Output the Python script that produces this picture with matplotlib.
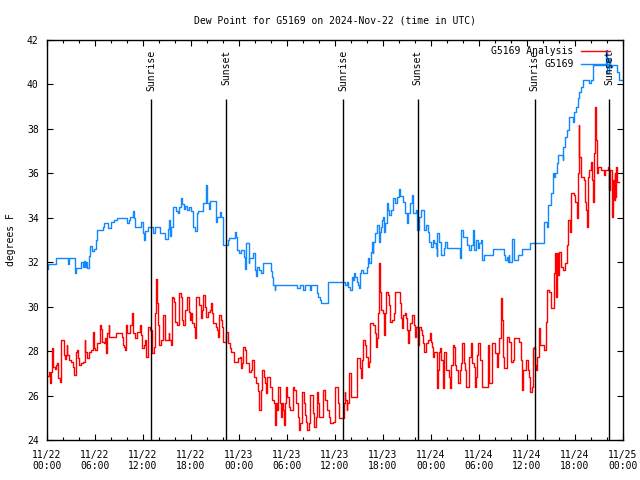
import matplotlib
matplotlib.use('Agg')
import matplotlib.pyplot as plt
from matplotlib.ticker import MultipleLocator

# ── Data (hours since 11/22 00:00 UTC, deg F) ───────────────────────────────
g5169_hours = [
    0.0, 0.12, 1.16, 2.66, 2.8, 3.45, 3.66, 4.3, 4.45, 4.6, 4.75, 4.9, 5.0,
    5.24, 5.37, 5.66, 5.9, 6.07, 6.28, 6.95, 7.11, 7.6, 7.95, 8.36, 8.69,
    9.7, 10.0, 10.2, 10.4, 10.77, 10.9, 11.06, 11.8, 12.0, 12.1, 12.3, 12.6,
    13.2, 13.3, 13.5, 14.1, 14.7, 15.1, 15.25, 15.4, 15.55, 15.8, 16.1, 16.4,
    16.55, 16.7, 16.9, 17.1, 17.3, 17.5, 17.7, 18.05, 18.3, 18.5, 18.7, 18.9,
    19.5, 19.9, 20.0, 20.2, 20.4, 21.1, 21.3, 21.6, 21.8, 22.0, 22.6, 22.7,
    23.5, 23.6, 23.8, 24.0, 24.2, 24.6, 24.7, 24.9, 25.2, 25.3, 25.8, 25.95,
    26.1, 26.3, 26.5, 26.7, 27.0, 28.0, 28.1, 28.3, 28.45, 28.55, 31.3, 31.6,
    32.0, 32.2, 32.9, 33.0, 33.7, 33.9, 34.1, 34.2, 35.1, 37.3, 37.5, 37.6,
    37.9, 38.1, 38.2, 38.4, 38.5, 38.7, 38.9, 39.0, 39.1, 39.3, 39.5, 40.0,
    40.1, 40.3, 40.5, 40.6, 40.7, 40.8, 41.0, 41.2, 41.3, 41.45, 41.6, 41.7,
    41.9, 42.0, 42.1, 42.2, 42.5, 42.6, 42.8, 43.0, 43.3, 43.5, 43.7, 44.0,
    44.1, 44.5, 44.7, 44.8, 45.0, 45.1, 45.4, 45.6, 45.8, 46.1, 46.3, 46.5,
    46.8, 47.1, 47.4, 47.6, 47.8, 48.0, 48.2, 48.4, 48.6, 48.7, 48.8, 49.0,
    49.2, 49.6, 49.8, 50.0, 51.6, 51.8, 52.0, 52.5, 52.8, 53.0, 53.3, 53.4,
    53.6, 53.9, 54.0, 54.2, 54.4, 54.6, 55.7, 57.18, 57.3, 57.47, 57.6, 57.72,
    57.8, 58.1, 58.39, 58.84, 59.4, 60.38, 62.09, 62.5, 62.59, 63.05, 63.21,
    63.42, 63.54, 63.71, 63.84, 64.46, 64.54, 64.79, 64.96, 65.21, 65.29,
    65.71, 65.92, 66.12, 66.33, 66.54, 66.75, 66.96, 67.79, 68.0, 68.2, 69.87,
    69.99, 70.2, 70.41, 70.62, 71.24, 71.45, 72.0,
]
g5169_dewpt = [
    31.7, 31.9, 32.17, 31.9, 32.17, 31.5, 31.75, 32.0, 31.8, 32.05, 31.8, 32.0, 31.75,
    32.3, 32.73, 32.5, 32.6, 33.0, 33.45, 33.6, 33.75, 33.55, 33.8, 33.9, 34.0,
    34.0, 33.75, 33.9, 34.05, 34.3, 34.0, 33.57, 33.8, 33.3, 33.0, 33.4, 33.57,
    33.57, 33.33, 33.57, 33.33, 33.03, 33.5, 33.9, 33.2, 33.6, 34.5, 34.3, 34.2,
    34.5, 34.9, 34.6, 34.4, 34.55, 34.35, 34.5, 34.3, 33.6, 33.4, 34.2, 34.3,
    34.65, 35.47, 34.65, 34.4, 34.77, 33.8, 34.05, 34.27, 34.05, 32.77, 33.0, 33.07,
    33.38, 33.15, 32.55, 32.4, 32.55, 32.25, 31.7, 32.85, 31.95, 32.17, 32.4, 31.65,
    31.4, 31.8, 31.65, 31.5, 31.95, 31.6, 31.35, 30.98, 30.75, 30.98, 30.83, 30.98,
    30.75, 30.98, 30.75, 30.98, 30.6, 30.45, 30.3, 30.15, 31.13, 30.98, 31.13, 30.9,
    30.75, 31.35, 31.2, 31.5, 31.35, 31.13, 30.98, 30.83, 31.5, 31.65, 31.5, 31.8,
    32.17, 31.95, 32.47, 32.9, 32.4, 32.9, 33.3, 33.52, 33.67, 32.9, 33.37, 33.6,
    33.9, 34.05, 33.37, 33.75, 34.65, 34.35, 34.13, 34.35, 34.87, 34.65, 34.95, 35.3,
    35.0, 34.72, 34.5, 34.2, 33.75, 34.2, 34.65, 35.03, 34.2, 34.35, 33.45, 34.05,
    34.35, 33.45, 33.67, 33.37, 32.92, 32.7, 33.0, 32.85, 32.63, 32.3, 33.3, 32.92,
    32.33, 32.63, 32.92, 32.63, 32.17, 33.45, 33.15, 32.78, 32.55, 32.78, 33.45, 32.55,
    33.0, 32.63, 32.85, 33.0, 32.1, 32.33, 32.58, 32.33, 32.1, 32.25, 32.03, 32.33,
    32.03, 33.03, 32.1, 32.33, 32.58, 32.85, 33.83, 33.6, 34.58, 35.1, 36.0,
    35.85, 36.0, 36.45, 36.83, 36.6, 37.2, 37.65, 37.95, 38.25, 38.55,
    38.33, 38.78, 39.0, 39.38, 39.68, 39.9, 40.2, 40.05, 40.2, 40.88, 41.55,
    40.5, 41.18, 40.8, 40.88, 40.58, 40.2, 40.2,
]

analysis_hours = [
    0.0, 0.25, 0.37, 0.54, 0.67, 0.79, 0.96, 1.1, 1.3, 1.4, 1.6, 1.7, 1.8,
    2.1, 2.25, 2.35, 2.45, 2.55, 2.7, 3.0, 3.3, 3.37, 3.6, 3.7, 3.9, 4.0, 4.3,
    4.5, 4.7, 4.8, 4.95, 5.2, 5.5, 5.7, 5.9, 6.0, 6.2, 6.6, 6.75, 6.9, 7.1,
    7.2, 7.4, 7.5, 7.7, 7.8, 8.6, 9.4, 9.5, 9.6, 9.75, 9.9, 10.0, 10.4, 10.6,
    10.7, 10.8, 11.0, 11.3, 11.6, 11.8, 11.9, 12.1, 12.3, 12.4, 12.6, 12.9,
    13.1, 13.15, 13.4, 13.5, 13.65, 13.8, 13.9, 14.0, 14.3, 14.5, 14.7, 14.8,
    15.2, 15.3, 15.5, 15.6, 15.8, 15.9, 16.0, 16.2, 16.5, 16.7, 16.9, 17.0,
    17.3, 17.5, 17.7, 17.9, 18.05, 18.14, 18.34, 18.55, 18.68, 18.97, 19.22,
    19.43, 19.55, 19.76, 19.88, 20.12, 20.42, 20.55, 20.67, 20.76, 21.09,
    21.25, 21.42, 21.55, 21.71, 21.84, 22.0, 22.42, 22.67, 22.84, 23.05, 23.34,
    23.88, 24.08, 24.29, 24.42, 24.54, 24.71, 24.92, 25.21, 25.54, 25.67,
    25.92, 26.08, 26.37, 26.5, 26.71, 26.88, 27.08, 27.2, 27.33, 27.5, 27.83,
    28.08, 28.37, 28.5, 28.66, 28.79, 28.91, 29.08, 29.2, 29.33, 29.5, 29.62,
    29.74, 29.91, 30.03, 30.24, 30.41, 30.74, 30.87, 31.07, 31.37, 31.49,
    31.65, 31.82, 32.11, 32.24, 32.4, 32.53, 32.7, 32.9, 33.24, 33.4, 33.57,
    33.69, 33.86, 33.98, 34.32, 34.48, 34.81, 34.98, 35.23, 35.36, 35.73,
    35.94, 36.36, 36.48, 36.98, 37.1, 37.19, 37.31, 37.44, 37.52, 37.69, 37.81,
    37.94, 38.02, 38.52, 38.69, 39.06, 39.18, 39.27, 39.39, 39.52, 39.81, 39.93,
    40.1, 40.27, 40.39, 40.81, 40.98, 41.1, 41.23, 41.35, 41.47, 41.56, 41.64,
    41.76, 42.05, 42.18, 42.3, 42.43, 42.6, 42.72, 42.89, 43.18, 43.34, 43.47,
    43.93, 44.09, 44.26, 44.43, 44.55, 44.76, 44.93, 45.05, 45.17, 45.3, 45.42,
    45.59, 45.92, 46.05, 46.17, 46.34, 46.46, 46.76, 46.88, 47.0, 47.08, 47.41,
    47.58, 47.83, 47.99, 48.12, 48.24, 48.41, 48.7, 48.83, 48.99, 49.16, 49.29,
    49.46, 49.58, 49.88, 50.17, 50.29, 50.42, 50.54, 50.71, 50.92, 51.04, 51.17,
    51.33, 51.58, 51.75, 51.87, 52.08, 52.25, 52.41, 52.79, 53.0, 53.16, 53.33,
    53.49, 53.62, 53.75, 53.91, 54.08, 54.27, 54.39, 55.18, 55.31, 55.64, 56.02,
    56.22, 56.35, 56.47, 56.76, 56.89, 57.06, 57.18, 57.47, 57.8, 58.01, 58.22,
    58.43, 59.05, 59.22, 59.38, 59.55, 59.88, 60.09, 60.3, 60.42, 60.59, 60.72,
    60.84, 61.01, 61.17, 61.26, 61.46, 61.63, 62.17, 62.38, 62.55, 62.8, 62.96,
    63.42, 63.54, 63.63, 63.71, 63.84, 63.96, 64.25, 64.46, 64.79, 64.96, 65.08,
    65.38, 65.5, 65.92, 66.04, 66.21, 66.33, 66.46, 66.54, 66.75, 67.16, 67.29,
    67.37, 67.46, 67.58, 67.79, 67.95, 68.12, 68.29, 68.41, 68.54, 68.62, 68.7,
    68.87, 69.24, 69.62, 69.78, 70.12, 70.28, 70.41, 70.58, 70.7, 70.82, 70.95,
    71.03, 71.12, 71.24, 71.5,
]
analysis_dewpt = [
    26.9, 27.08, 26.55, 27.08, 28.13, 27.3, 27.2, 27.38, 27.45, 26.8, 26.6, 27.3, 28.5,
    27.83, 27.65, 27.83, 28.28, 27.83, 27.6, 27.5, 27.3, 26.93, 27.98, 28.05, 27.68, 27.38, 27.45,
    27.5, 28.5, 27.98, 27.68, 27.98, 28.05, 28.88, 28.13, 28.05, 28.35, 29.18, 29.0, 28.43, 28.35,
    28.58, 27.9, 28.8, 29.18, 28.65, 28.8, 28.65, 28.28, 28.2, 28.05, 29.18, 28.8, 29.18, 29.7,
    29.1, 28.8, 28.58, 28.88, 29.18, 28.73, 28.13, 28.28, 28.5, 27.75, 29.1, 28.95,
    28.43, 27.9, 28.2, 29.7, 31.23, 30.15, 29.18, 28.28, 28.5, 29.63, 29.03, 28.5,
    28.8, 28.5, 28.28, 30.45, 30.38, 30.23, 29.33, 29.18, 30.63, 30.45, 29.4, 29.18,
    29.85, 30.45, 29.78, 29.4, 29.7, 29.25, 29.1, 28.58, 30.45, 30.08, 29.48,
    29.85, 30.53, 30.0, 29.55, 29.78, 29.85, 30.15, 29.7, 29.25, 29.1,
    28.95, 28.65, 29.63, 29.4, 29.1, 28.43, 28.88, 28.35, 28.13, 27.98, 27.53,
    27.68, 27.75, 27.23, 27.45, 28.2, 28.05, 27.45, 27.08, 27.15, 27.6,
    26.85, 26.55, 26.2, 25.35, 26.25, 27.15, 26.85, 26.55, 26.1, 26.85, 26.4,
    25.8, 25.65, 24.68, 25.65, 25.35, 26.4, 25.65, 25.05, 25.65, 25.35, 24.68,
    25.65, 26.4, 25.95, 25.5, 25.35, 26.4, 26.25, 25.65, 25.05, 24.45,
    24.75, 26.18, 25.65, 25.13, 24.83, 24.45, 24.75, 26.03, 25.2, 24.6, 25.05,
    26.18, 25.65, 25.05, 25.05, 26.25, 25.8, 25.35, 25.05, 24.75, 24.83,
    26.4, 25.65, 24.98, 24.98, 25.65, 26.18, 25.8, 25.35, 25.65, 26.25, 27.0,
    26.78, 25.95, 25.95, 27.68, 27.68, 27.23, 26.78, 27.6, 28.5, 28.28, 27.75,
    27.3, 27.53, 29.25, 29.18, 28.8, 28.2, 28.58, 29.7, 30.23, 31.95, 30.68,
    29.85, 29.7, 28.73, 29.7, 30.68, 30.53, 30.08, 29.33, 29.4, 29.7, 30.68,
    30.68, 30.15, 29.48, 29.03, 29.63, 29.7, 29.48, 28.95, 28.35, 28.95, 29.25,
    29.63, 29.18, 28.65, 29.1, 28.28, 29.1, 28.95, 28.73, 28.35, 27.98, 28.35,
    28.5, 28.8, 28.43, 28.2, 27.75, 27.98, 26.33, 27.15, 27.98, 28.13, 27.6,
    26.33, 27.98, 27.15, 27.15, 26.85, 26.33, 27.38, 28.28, 28.2, 27.38, 27.15,
    26.55, 27.15, 27.45, 28.35, 27.45, 27.15, 26.4, 27.75, 28.35, 27.45, 27.3,
    26.4, 26.85, 27.83, 28.35, 27.6, 27.6, 26.4, 28.28, 26.55, 28.35, 27.9,
    27.3, 27.9, 28.58, 30.38, 29.4, 27.75, 27.23, 28.65, 28.43, 27.53, 27.6,
    28.58, 28.43, 27.6, 26.25, 27.15, 27.6, 27.15, 26.85, 26.18, 26.4, 28.13,
    28.2, 27.38, 27.15, 27.75, 29.03, 28.28, 28.05, 29.33, 30.75, 30.68, 29.93,
    31.5, 32.4, 30.45, 32.4, 31.43, 32.48, 31.8, 31.65, 31.95, 32.78, 33.9,
    33.38, 35.1, 35.03, 34.73, 33.98, 36.0, 38.18, 36.75, 35.85, 35.7, 34.73,
    34.35, 33.6, 35.85, 36.15, 36.53, 35.7, 34.73, 36.9, 39.0, 37.5, 36.0,
    36.3, 36.15, 35.93, 36.15, 36.3, 35.25, 36.15, 34.05, 35.7, 34.8, 36.0,
    34.95, 36.3, 35.63, 35.63,
]

sun_hours = [13.0, 22.4, 37.0, 46.35, 60.95, 70.25]
sun_labels = ['Sunrise', 'Sunset', 'Sunrise', 'Sunset', 'Sunrise', 'Sunset']

tick_hours = list(range(0, 73, 6))
tick_labels = ['11/22\n00:00', '11/22\n06:00', '11/22\n12:00', '11/22\n18:00',
               '11/23\n00:00', '11/23\n06:00', '11/23\n12:00', '11/23\n18:00',
               '11/24\n00:00', '11/24\n06:00', '11/24\n12:00', '11/24\n18:00',
               '11/25\n00:00']

ANALYSIS_COLOR = '#ff0000'
OBS_COLOR = '#1188ff'

plt.rcParams['font.family'] = ['DejaVu Sans Mono']
plt.rcParams['font.size'] = 7

fig = plt.figure(figsize=(6.4, 4.8), dpi=100)
ax = fig.add_axes([47/640, 40/480, 576/640, 400/480])

ax.plot(analysis_hours, analysis_dewpt, drawstyle='steps-post',
        color=ANALYSIS_COLOR, lw=1.0, label='G5169 Analysis')
ax.plot(g5169_hours, g5169_dewpt, drawstyle='steps-post',
        color=OBS_COLOR, lw=1.0, label='G5169')

# sunrise / sunset markers
for h, lab in zip(sun_hours, sun_labels):
    ax.vlines(h, 24, 39.35, color='black', lw=1.0)
    ax.text(h, 41.55, lab, rotation=90, ha='center', va='top', fontsize=7)

ax.set_xlim(0, 72)
ax.set_ylim(24, 42)
ax.set_xticks(tick_hours)
ax.set_xticklabels(tick_labels)
ax.xaxis.set_minor_locator(MultipleLocator(2))
ax.yaxis.set_major_locator(MultipleLocator(2))
ax.tick_params(which='both', direction='in', top=True, right=True, width=0.8)
ax.tick_params(which='major', length=4)
ax.tick_params(which='minor', length=2)
ax.tick_params(axis='x', pad=7)
ax.tick_params(axis='y', pad=6)
for s in ax.spines.values():
    s.set_linewidth(1.0)

ax.set_ylabel('degrees F', labelpad=8)
ax.set_title('Dew Point for G5169 on 2024-Nov-22 (time in UTC)', fontsize=7, pad=12)

ax.legend(loc='upper right', bbox_to_anchor=(1 - 10/576, 1 - 3/400), borderaxespad=0,
          borderpad=0.35, frameon=False, markerfirst=False, handlelength=2.9,
          handletextpad=0.8, labelspacing=0.3, fontsize=7)

fig.savefig('out.png', dpi=100)
